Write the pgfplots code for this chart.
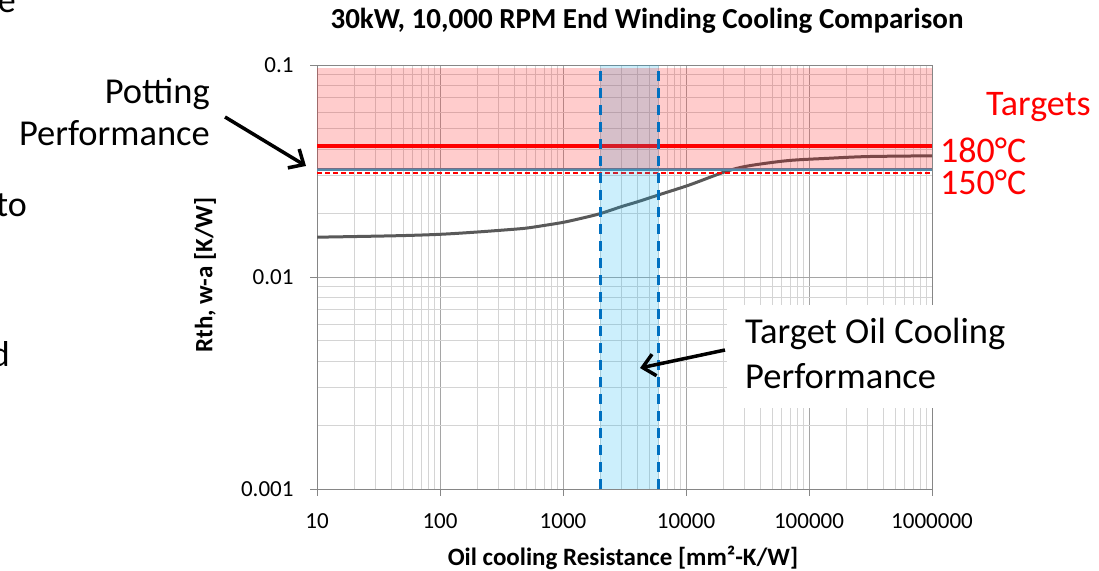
\documentclass[border=0pt]{standalone}
\usepackage{pgfplots}
\pgfplotsset{compat=1.18}
\usepackage{fontspec}
\setmainfont{Carlito}
\usetikzlibrary{arrows.meta}
\definecolor{bluefill}{RGB}{0,176,240}
\definecolor{dashblue}{RGB}{0,112,192}
\definecolor{curvegray}{RGB}{89,89,89}
\definecolor{steel}{RGB}{84,138,168}
\definecolor{majgrid}{RGB}{165,165,165}
\definecolor{mingrid}{RGB}{212,212,212}
\definecolor{axisgray}{RGB}{134,134,134}
\begin{document}
\begin{tikzpicture}[x=1pt,y=1pt]
\useasboundingbox (0,0) rectangle (1099,570);
\begin{scope}
\clip (0,0) rectangle (1099,570);
\node[anchor=base east, inner sep=0, font=\fontsize{36}{42}\selectfont] at (16,557) {e};
\node[anchor=base east, inner sep=0, font=\fontsize{36}{42}\selectfont] at (27,353) {to};
\node[anchor=base east, inner sep=0, font=\fontsize{36}{42}\selectfont] at (10,203) {d};
\end{scope}
\begin{axis}[
  at={(317pt,81pt)}, anchor=south west,
  width=615pt, height=424pt, scale only axis,
  xmode=log, ymode=log,
  xmin=10, xmax=1000000, ymin=0.001, ymax=0.1,
  grid=both,
  major grid style={majgrid, line width=0.9pt},
  minor grid style={mingrid, line width=0.8pt},
  axis line style={axisgray, line width=1pt},
  tick align=outside, tick pos=left,
  major tick length=7pt, minor tick length=0pt,
  tick style={axisgray, line width=1pt},
  xtick={10,100,1000,10000,100000,1000000},
  xticklabels={10,100,1000,10000,100000,1000000},
  minor xtick={20,30,40,50,60,70,80,90,200,300,400,500,600,700,800,900,2000,3000,4000,5000,6000,7000,8000,9000,20000,30000,40000,50000,60000,70000,80000,90000,200000,300000,400000,500000,600000,700000,800000,900000},
  ytick={0.001,0.01,0.1},
  yticklabels={0.001,0.01,0.1},
  minor ytick={0.002,0.003,0.004,0.005,0.006,0.007,0.008,0.009,0.02,0.03,0.04,0.05,0.06,0.07,0.08,0.09},
  ticklabel style={font=\fontsize{23}{23}\selectfont},
  xticklabel style={yshift=-14pt},
  yticklabel style={xshift=-13pt},
]
\addplot[curvegray, line width=3pt, smooth] coordinates {
(10,0.01541)(43,0.01565)(100,0.01590)(200,0.0163)(350,0.0167)(500,0.0170)(700,0.0175)(1000,0.0181)
(1400,0.0189)(2000,0.0199)(3000,0.0215)(4000,0.0226)(6000,0.0244)(10700,0.0272)(20900,0.0314)
(31900,0.0334)(67000,0.0354)(142000,0.0363)(300000,0.0370)(1000000,0.0373)};
\addplot[red, line width=3.5pt] coordinates {(10,0.0416)(1000000,0.0416)};
\addplot[steel, line width=3pt] coordinates {(10,0.0322)(1000000,0.0322)};
\addplot[red, line width=1.5pt, dash pattern=on 5pt off 3pt] coordinates {(10,0.0310)(1000000,0.0310)};
\addplot[draw=none, fill=bluefill, fill opacity=0.2] coordinates {(2000,0.001)(6000,0.001)(6000,0.1)(2000,0.1)} -- cycle;
\addplot[draw=none, fill=red, fill opacity=0.2] coordinates {(10,0.0322)(1000000,0.0322)(1000000,0.097)(10,0.097)} -- cycle;
\addplot[dashblue, line width=3pt, dash pattern=on 10pt off 7pt] coordinates {(2000,0.001)(2000,0.1)};
\addplot[dashblue, line width=3pt, dash pattern=on 10pt off 7pt] coordinates {(6000,0.001)(6000,0.1)};
\end{axis}
\node[anchor=base, inner sep=0, font=\bfseries\fontsize{29}{29}\selectfont] at (647,541) {30kW, 10,000 RPM End Winding Cooling Comparison};
\node[anchor=base, inner sep=0, font=\bfseries\fontsize{25}{25}\selectfont] at (623,5) {Oil cooling Resistance [mm²-K/W]};
\node[rotate=90, inner sep=0, font=\bfseries\fontsize{25}{25}\selectfont] at (205,295) {Rth, w-a [K/W]};
\node[anchor=base east, inner sep=0, font=\fontsize{36.5}{42}\selectfont] at (210,466) {Potting};
\node[anchor=base east, inner sep=0, font=\fontsize{36.5}{42}\selectfont] at (210,424) {Performance};
\draw[line width=3.5pt, -{Straight Barb[length=12pt,width=22pt]}] (225,453) -- (306,404);
\fill[white] (727,162) rectangle (940,265);
\node[anchor=base west, inner sep=0, font=\fontsize{36.5}{42}\selectfont] at (745,226) {Target Oil Cooling};
\node[anchor=base west, inner sep=0, font=\fontsize{36.5}{42}\selectfont] at (745,181) {Performance};
\draw[line width=3.5pt, -{Straight Barb[length=12pt,width=22pt]}] (725,220) -- (640,202);
\node[anchor=base west, inner sep=0, text=red, font=\fontsize{36}{42}\selectfont] at (986,454) {Targets};
\node[anchor=base west, inner sep=0, text=red, font=\fontsize{36}{42}\selectfont] at (940,407) {180°C};
\node[anchor=base west, inner sep=0, text=red, font=\fontsize{36}{42}\selectfont] at (940,375) {150°C};
\end{tikzpicture}
\end{document}
